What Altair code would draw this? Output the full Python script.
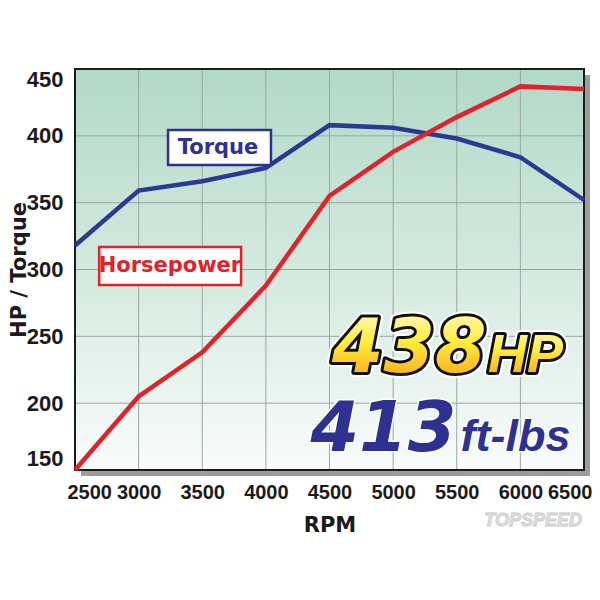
import altair as alt
import pandas as pd

# ---- data ----
rpm = [2500, 3000, 3500, 4000, 4500, 5000, 5500, 6000, 6500]
torque = [318, 359, 366, 376, 408, 406, 398, 384, 352]
horsepower = [150, 205, 238, 288, 355, 388, 414, 437, 435]

x_ticks = [2500, 3000, 3500, 4000, 4500, 5000, 5500, 6000, 6500]
y_ticks = [150, 200, 250, 300, 350, 400, 450]

label_names = ["Torque", "Horsepower"]
label_rpm = [3624, 3246]
label_val = [390.9, 302.6]
box_rpm_lo = [3231, 2690]
box_rpm_hi = [4040, 3805]
box_val_lo = [378.1, 288.4]
box_val_hi = [404.3, 316.8]
label_colors = ["#2e3192", "#e0232b"]

big_hp_text = ["438", "HP"]
big_hp_rpm = [4520, 5745]
big_tq_text = ["413", "ft-lbs"]
big_tq_rpm = [4350, 5530]
big_hp_val = 223.0
big_tq_val = 164.5

watermark_text = ["TOPSPEED"]
watermark_rpm = [6100]
watermark_val = [112]

W, H = 509, 401
X_TITLE, Y_TITLE = "RPM", "HP / Torque"
xs = alt.Scale(domain=[2500, 6500], nice=False, zero=False)
ys = alt.Scale(domain=[150, 450], nice=False, zero=False)
x_axis = alt.Axis(values=x_ticks, format="d", labelOverlap=False)
y_axis = alt.Axis(values=y_ticks, format="d", labelOverlap=False)

one = pd.DataFrame({"k": [0]})

shadow = alt.Chart(one).mark_rect(color="#9c9c9c").encode(
    x=alt.value(6), x2=alt.value(W + 6), y=alt.value(6), y2=alt.value(H + 6)
)
bg = alt.Chart(one).mark_rect(
    fill=alt.Gradient(
        gradient="linear",
        stops=[
            alt.GradientStop(color="#b2d9c8", offset=0),
            alt.GradientStop(color="#d3e9df", offset=0.5),
            alt.GradientStop(color="#f9fcfb", offset=1),
        ],
        x1=0, x2=0, y1=0, y2=1,
    )
).encode(x=alt.value(0), x2=alt.value(W), y=alt.value(0), y2=alt.value(H))

vgrid = alt.Chart(pd.DataFrame({"rpm": x_ticks})).mark_rule(
    color="#9aa8a2", strokeWidth=1
).encode(x=alt.X("rpm:Q", scale=xs, axis=x_axis, title=X_TITLE))
hgrid = alt.Chart(pd.DataFrame({"val": y_ticks})).mark_rule(
    color="#9aa8a2", strokeWidth=1
).encode(y=alt.Y("val:Q", scale=ys, axis=y_axis, title=Y_TITLE))

frame = alt.Chart(one).mark_rect(
    fill="transparent", stroke="#1c1c1c", strokeWidth=2
).encode(x=alt.value(0), x2=alt.value(W), y=alt.value(0), y2=alt.value(H))

df = pd.DataFrame({"rpm": rpm, "torque": torque, "hp": horsepower})
tq_line = alt.Chart(df).mark_line(color="#2b3992", strokeWidth=4.5).encode(
    x=alt.X("rpm:Q", scale=xs, axis=x_axis, title=X_TITLE),
    y=alt.Y("torque:Q", scale=ys, axis=y_axis, title=Y_TITLE),
)
hp_line = alt.Chart(df).mark_line(color="#e0232b", strokeWidth=4.5).encode(
    x=alt.X("rpm:Q", scale=xs, axis=x_axis, title=X_TITLE),
    y=alt.Y("hp:Q", scale=ys, axis=y_axis, title=Y_TITLE),
)

lab = pd.DataFrame({
    "name": label_names, "rpm": label_rpm, "val": label_val,
    "x1": box_rpm_lo, "x2": box_rpm_hi, "y1": box_val_lo, "y2": box_val_hi,
})
col_scale = alt.Scale(domain=label_names, range=label_colors)
boxes = alt.Chart(lab).mark_rect(fill="white", strokeWidth=2.5).encode(
    x=alt.X("x1:Q", scale=xs, axis=x_axis, title=X_TITLE), x2="x2:Q",
    y=alt.Y("y1:Q", scale=ys, axis=y_axis, title=Y_TITLE), y2="y2:Q",
    stroke=alt.Stroke("name:N", scale=col_scale, legend=None),
)
box_text = alt.Chart(lab).mark_text(
    font="DejaVu Sans", fontWeight="bold", fontSize=21, align="center", baseline="middle"
).encode(
    x=alt.X("rpm:Q", scale=xs, axis=x_axis, title=X_TITLE),
    y=alt.Y("val:Q", scale=ys, axis=y_axis, title=Y_TITLE),
    text="name:N",
    color=alt.Color("name:N", scale=col_scale, legend=None),
)


def big_layer(text, r, v, size, font, **mk):
    data = pd.DataFrame({"t": [text], "rpm": [r], "val": [v]})
    return alt.Chart(data).mark_text(
        font=font, fontWeight="bold", fontStyle="italic", fontSize=size,
        align="left", baseline="alphabetic", **mk
    ).encode(
        x=alt.X("rpm:Q", scale=xs, axis=x_axis, title=X_TITLE),
        y=alt.Y("val:Q", scale=ys, axis=y_axis, title=Y_TITLE),
        text="t:N",
    )


gold = alt.Gradient(
    gradient="linear",
    stops=[
        alt.GradientStop(color="#fffbd8", offset=0),
        alt.GradientStop(color="#ffec3a", offset=0.45),
        alt.GradientStop(color="#f59a14", offset=1),
    ],
    x1=0, x2=0, y1=0, y2=1,
)
hp_specs = [(big_hp_text[0], big_hp_rpm[0], 74, "DejaVu Sans"),
            (big_hp_text[1], big_hp_rpm[1], 54, "Liberation Sans")]
tq_specs = [(big_tq_text[0], big_tq_rpm[0], 70, "DejaVu Sans"),
            (big_tq_text[1], big_tq_rpm[1], 45, "Liberation Sans")]

big_layers = []
for t, r, s, f in hp_specs:
    big_layers.append(big_layer(t, r, big_hp_val, s, f, fill="white", stroke="white",
                                strokeWidth=10, strokeJoin="round"))
for t, r, s, f in hp_specs:
    big_layers.append(big_layer(t, r, big_hp_val, s, f, fill="black", stroke="#111111",
                                strokeWidth=6, strokeJoin="round"))
for t, r, s, f in hp_specs:
    big_layers.append(big_layer(t, r, big_hp_val, s, f, fill=gold))
for t, r, s, f in tq_specs:
    big_layers.append(big_layer(t, r, big_tq_val, s, f, fill="white", stroke="white",
                                strokeWidth=3, strokeJoin="round"))
for t, r, s, f in tq_specs:
    big_layers.append(big_layer(t, r, big_tq_val, s, f, fill="#2e3192"))

wm = alt.Chart(pd.DataFrame({"t": watermark_text, "rpm": watermark_rpm,
                             "val": watermark_val})).mark_text(
    font="Liberation Sans", fontWeight="bold", fontStyle="italic", fontSize=18,
    color="#e2e2e2", stroke="#c8c8c8", strokeWidth=0.8, align="center", baseline="middle"
).encode(
    x=alt.X("rpm:Q", scale=xs, axis=x_axis, title=X_TITLE),
    y=alt.Y("val:Q", scale=ys, axis=y_axis, title=Y_TITLE),
    text="t:N",
)

chart = alt.layer(
    shadow, bg, vgrid, hgrid, frame, tq_line, hp_line, boxes, box_text, *big_layers, wm
).properties(
    width=W, height=H,
    padding={"left": 67, "top": 61, "right": 8, "bottom": 122},
    autosize=alt.AutoSizeParams(type="none"),
    background="white",
).configure_view(
    strokeWidth=0
).configure_axis(
    grid=False, domain=False, ticks=False,
    labelFont="Liberation Sans", labelFontSize=20, labelFontWeight="bold",
    labelColor="#1b1b1b",
    titleFont="DejaVu Sans", titleFontSize=21, titleFontWeight="bold", titleColor="#1b1b1b",
).configure_axisX(
    labelFlush=True, labelFlushOffset=8, labelPadding=12, titlePadding=12,
).configure_axisY(
    labelFont="Liberation Sans", labelFontSize=22,
    labelFlush=True, labelPadding=12,
    titleX=-56, titleY=H / 2, titleAngle=270, titleAlign="center", titleBaseline="middle",
)

chart.save("out.html", embed_options={"renderer": "svg", "actions": False})
